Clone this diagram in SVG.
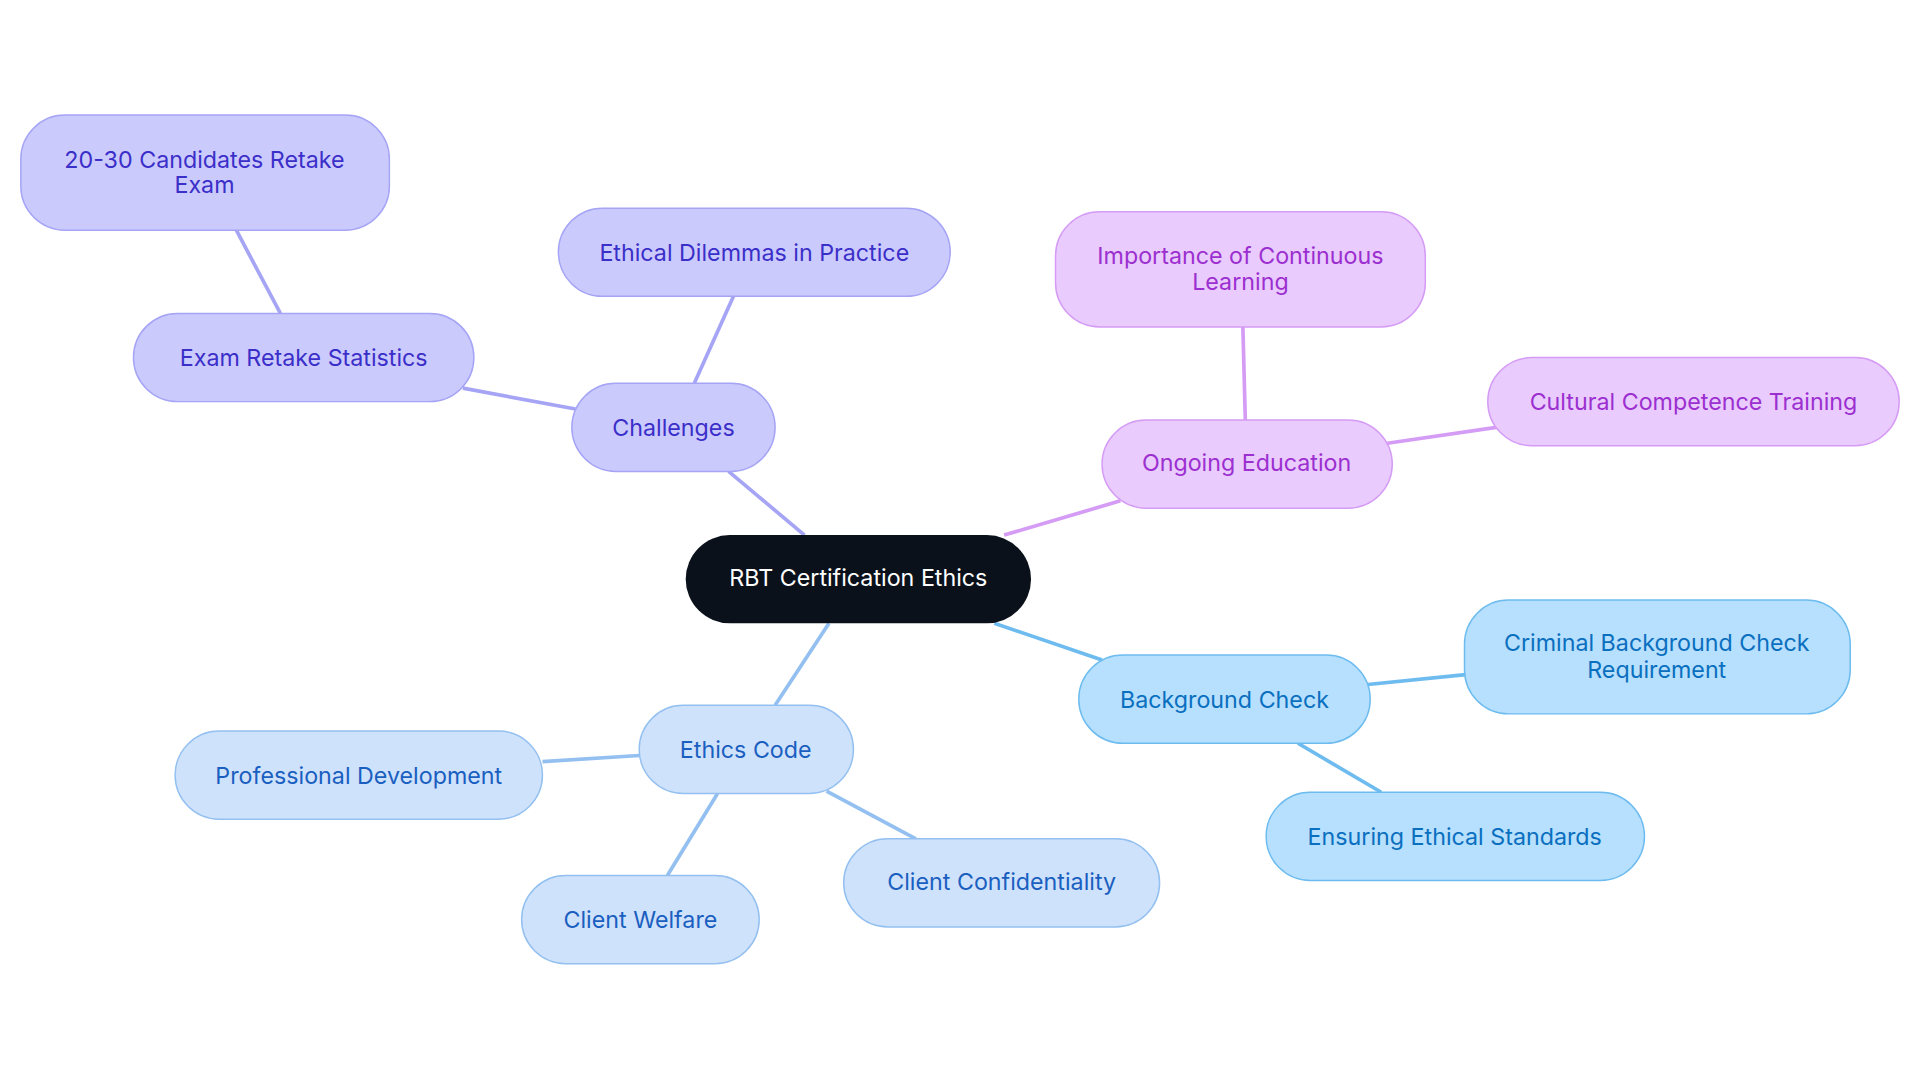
<svg xmlns="http://www.w3.org/2000/svg" width="1920" height="1083" viewBox="0 0 1920 1083">
<style>
text{font-family:Inter,"Noto Sans",sans-serif;font-size:19px;text-anchor:middle;dominant-baseline:central}
.p rect{fill:#cbcafd;stroke:#a5a4f5;stroke-width:1.2}.p text{fill:#3b2fc9}
.m rect{fill:#e9cbfd;stroke:#d59cf5;stroke-width:1.2}.m text{fill:#9c2fd0}
.e rect{fill:#cfe2fc;stroke:#93c0f0;stroke-width:1.2}.e text{fill:#1a5fc0}
.b rect{fill:#b6e0fd;stroke:#6ebcef;stroke-width:1.2}.b text{fill:#0a6fbf}
#edges line{stroke-width:3}
</style>
<rect width="1920" height="1083" fill="#fff"/>
<g transform="scale(1.2245)">
<g id="edges">
<line x1="657" y1="437" x2="595" y2="385" stroke="#a5a4f5"/>
<line x1="470" y1="334" x2="378" y2="317" stroke="#a5a4f5"/>
<line x1="229" y1="256" x2="193" y2="188" stroke="#a5a4f5"/>
<line x1="567" y1="313" x2="599" y2="242" stroke="#a5a4f5"/>
<line x1="820" y1="437" x2="915" y2="409" stroke="#d59cf5"/>
<line x1="1017" y1="343" x2="1015" y2="267" stroke="#d59cf5"/>
<line x1="1133" y1="362" x2="1222" y2="349" stroke="#d59cf5"/>
<line x1="812" y1="509" x2="900" y2="539" stroke="#6ebcef"/>
<line x1="1117" y1="559" x2="1197" y2="551" stroke="#6ebcef"/>
<line x1="1060" y1="607" x2="1128" y2="647" stroke="#6ebcef"/>
<line x1="677" y1="509" x2="633" y2="576" stroke="#93c0f0"/>
<line x1="522" y1="617" x2="443" y2="622" stroke="#93c0f0"/>
<line x1="586" y1="648" x2="545" y2="715" stroke="#93c0f0"/>
<line x1="675" y1="646" x2="748" y2="685" stroke="#93c0f0"/>
</g>
<g id="center"><rect x="560" y="437" width="282" height="72" rx="36" fill="#0b111b"/><text x="701" y="472" fill="#fff">RBT Certification Ethics</text></g>
<g id="challenges" class="p"><rect x="467" y="313" width="166" height="72" rx="36"/><text x="550" y="349">Challenges</text></g>
<g id="exam" class="p"><rect x="109" y="256" width="278" height="72" rx="36"/><text x="248" y="292">Exam Retake Statistics</text></g>
<g id="retake" class="p"><rect x="17" y="94" width="301" height="94" rx="36"/><text x="167" y="130">20-30 Candidates Retake</text><text x="167" y="151">Exam</text></g>
<g id="dilemmas" class="p"><rect x="456" y="170" width="320" height="72" rx="36"/><text x="616" y="206">Ethical Dilemmas in Practice</text></g>
<g id="ongoing" class="m"><rect x="900" y="343" width="237" height="72" rx="36"/><text x="1018" y="378">Ongoing Education</text></g>
<g id="importance" class="m"><rect x="862" y="173" width="302" height="94" rx="36"/><text x="1013" y="209">Importance of Continuous</text><text x="1013" y="230">Learning</text></g>
<g id="cultural" class="m"><rect x="1215" y="292" width="336" height="72" rx="36"/><text x="1383" y="328">Cultural Competence Training</text></g>
<g id="background" class="b"><rect x="881" y="535" width="238" height="72" rx="36"/><text x="1000" y="571">Background Check</text></g>
<g id="criminal" class="b"><rect x="1196" y="490" width="315" height="93" rx="36"/><text x="1353" y="525">Criminal Background Check</text><text x="1353" y="547">Requirement</text></g>
<g id="ensuring" class="b"><rect x="1034" y="647" width="309" height="72" rx="36"/><text x="1188" y="683">Ensuring Ethical Standards</text></g>
<g id="ethics" class="e"><rect x="522" y="576" width="175" height="72" rx="36"/><text x="609" y="612">Ethics Code</text></g>
<g id="professional" class="e"><rect x="143" y="597" width="300" height="72" rx="36"/><text x="293" y="633">Professional Development</text></g>
<g id="welfare" class="e"><rect x="426" y="715" width="194" height="72" rx="36"/><text x="523" y="751">Client Welfare</text></g>
<g id="confidentiality" class="e"><rect x="689" y="685" width="258" height="72" rx="36"/><text x="818" y="720">Client Confidentiality</text></g>
</g>
</svg>
